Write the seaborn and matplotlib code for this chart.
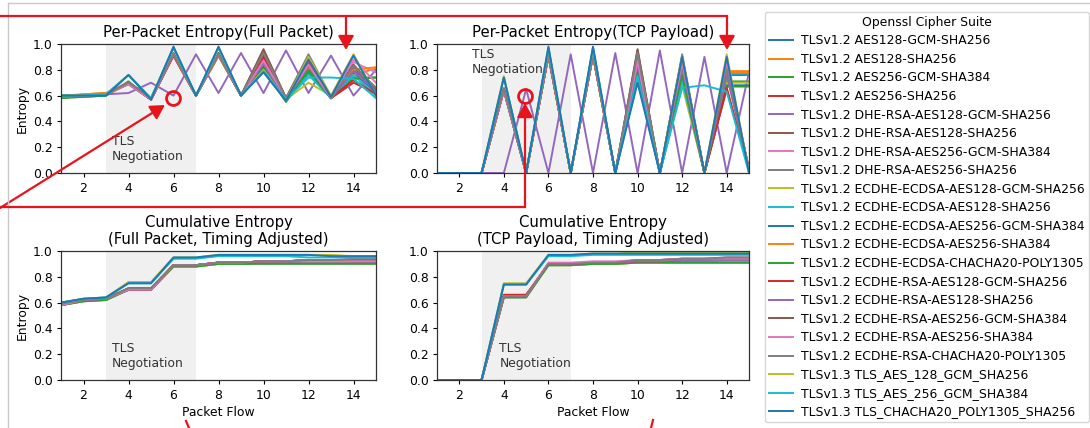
import matplotlib
matplotlib.use("Agg")
import matplotlib.pyplot as plt
from matplotlib.lines import Line2D
from matplotlib.patches import FancyArrowPatch
import pandas as pd
import seaborn as sns

W, H = 1090, 428

SUITES = [
    "TLSv1.2 AES128-GCM-SHA256",
    "TLSv1.2 AES128-SHA256",
    "TLSv1.2 AES256-GCM-SHA384",
    "TLSv1.2 AES256-SHA256",
    "TLSv1.2 DHE-RSA-AES128-GCM-SHA256",
    "TLSv1.2 DHE-RSA-AES128-SHA256",
    "TLSv1.2 DHE-RSA-AES256-GCM-SHA384",
    "TLSv1.2 DHE-RSA-AES256-SHA256",
    "TLSv1.2 ECDHE-ECDSA-AES128-GCM-SHA256",
    "TLSv1.2 ECDHE-ECDSA-AES128-SHA256",
    "TLSv1.2 ECDHE-ECDSA-AES256-GCM-SHA384",
    "TLSv1.2 ECDHE-ECDSA-AES256-SHA384",
    "TLSv1.2 ECDHE-ECDSA-CHACHA20-POLY1305",
    "TLSv1.2 ECDHE-RSA-AES128-GCM-SHA256",
    "TLSv1.2 ECDHE-RSA-AES128-SHA256",
    "TLSv1.2 ECDHE-RSA-AES256-GCM-SHA384",
    "TLSv1.2 ECDHE-RSA-AES256-SHA384",
    "TLSv1.2 ECDHE-RSA-CHACHA20-POLY1305",
    "TLSv1.3 TLS_AES_128_GCM_SHA256",
    "TLSv1.3 TLS_AES_256_GCM_SHA384",
    "TLSv1.3 TLS_CHACHA20_POLY1305_SHA256",
]
PACKETS = list(range(1, 16))

# per-packet entropy, full packet
full_packet = [
    [0.59, 0.60, 0.61, 0.70, 0.57, 0.92, 0.60, 0.92, 0.60, 0.86, 0.57, 0.82, 0.58, 0.78, 0.62],
    [0.60, 0.61, 0.62, 0.70, 0.58, 0.91, 0.60, 0.91, 0.61, 0.84, 0.58, 0.80, 0.59, 0.76, 0.81],
    [0.59, 0.59, 0.60, 0.71, 0.57, 0.92, 0.60, 0.92, 0.60, 0.80, 0.56, 0.78, 0.58, 0.74, 0.74],
    [0.58, 0.60, 0.61, 0.69, 0.57, 0.91, 0.60, 0.91, 0.60, 0.92, 0.58, 0.84, 0.58, 0.70, 0.62],
    [0.60, 0.60, 0.61, 0.62, 0.70, 0.60, 0.92, 0.62, 0.93, 0.62, 0.95, 0.62, 0.91, 0.60, 0.80],
    [0.59, 0.60, 0.61, 0.70, 0.58, 0.92, 0.60, 0.92, 0.60, 0.95, 0.58, 0.90, 0.59, 0.82, 0.66],
    [0.59, 0.60, 0.61, 0.69, 0.57, 0.91, 0.60, 0.91, 0.60, 0.88, 0.58, 0.86, 0.58, 0.86, 0.78],
    [0.59, 0.60, 0.61, 0.70, 0.58, 0.92, 0.60, 0.93, 0.60, 0.94, 0.58, 0.92, 0.59, 0.80, 0.64],
    [0.60, 0.60, 0.61, 0.70, 0.57, 0.91, 0.60, 0.91, 0.60, 0.82, 0.57, 0.70, 0.60, 0.72, 0.63],
    [0.59, 0.60, 0.61, 0.69, 0.57, 0.92, 0.60, 0.92, 0.60, 0.80, 0.58, 0.76, 0.58, 0.76, 0.60],
    [0.60, 0.60, 0.61, 0.70, 0.57, 0.92, 0.60, 0.92, 0.60, 0.83, 0.57, 0.80, 0.58, 0.80, 0.62],
    [0.59, 0.61, 0.62, 0.70, 0.58, 0.91, 0.60, 0.91, 0.61, 0.85, 0.58, 0.82, 0.59, 0.80, 0.82],
    [0.58, 0.59, 0.60, 0.70, 0.57, 0.92, 0.60, 0.92, 0.60, 0.81, 0.55, 0.80, 0.58, 0.73, 0.74],
    [0.59, 0.60, 0.61, 0.69, 0.57, 0.91, 0.60, 0.92, 0.60, 0.90, 0.57, 0.85, 0.58, 0.72, 0.61],
    [0.59, 0.60, 0.61, 0.70, 0.58, 0.92, 0.60, 0.92, 0.60, 0.85, 0.57, 0.83, 0.58, 0.79, 0.63],
    [0.59, 0.60, 0.61, 0.70, 0.57, 0.93, 0.60, 0.93, 0.60, 0.96, 0.58, 0.88, 0.59, 0.84, 0.65],
    [0.59, 0.60, 0.61, 0.69, 0.57, 0.92, 0.60, 0.92, 0.60, 0.87, 0.58, 0.84, 0.58, 0.88, 0.70],
    [0.59, 0.60, 0.61, 0.70, 0.58, 0.92, 0.60, 0.92, 0.60, 0.93, 0.58, 0.90, 0.58, 0.83, 0.66],
    [0.60, 0.60, 0.61, 0.76, 0.58, 0.97, 0.60, 0.97, 0.60, 0.80, 0.56, 0.90, 0.60, 0.92, 0.60],
    [0.60, 0.60, 0.61, 0.76, 0.58, 0.97, 0.60, 0.97, 0.60, 0.79, 0.57, 0.74, 0.74, 0.73, 0.58],
    [0.60, 0.60, 0.60, 0.76, 0.57, 0.98, 0.60, 0.98, 0.60, 0.78, 0.56, 0.88, 0.59, 0.91, 0.60],
]

# per-packet entropy, tcp payload only
tcp_payload = [
    [0, 0, 0, 0.65, 0, 0.92, 0, 0.92, 0, 0.80, 0, 0.78, 0, 0.76, 0.76],
    [0, 0, 0, 0.65, 0, 0.91, 0, 0.91, 0, 0.84, 0, 0.80, 0, 0.79, 0.79],
    [0, 0, 0, 0.66, 0, 0.92, 0, 0.92, 0, 0.78, 0, 0.76, 0, 0.71, 0.71],
    [0, 0, 0, 0.64, 0, 0.91, 0, 0.91, 0, 0.90, 0, 0.82, 0, 0.65, 0.02],
    [0, 0, 0, 0, 0.65, 0, 0.92, 0, 0.93, 0, 0.95, 0, 0.90, 0, 0.78],
    [0, 0, 0, 0.65, 0, 0.92, 0, 0.92, 0, 0.95, 0, 0.90, 0, 0.80, 0.03],
    [0, 0, 0, 0.64, 0, 0.91, 0, 0.91, 0, 0.86, 0, 0.85, 0, 0.84, 0.02],
    [0, 0, 0, 0.65, 0, 0.92, 0, 0.93, 0, 0.93, 0, 0.92, 0, 0.78, 0.03],
    [0, 0, 0, 0.65, 0, 0.91, 0, 0.91, 0, 0.82, 0, 0.68, 0, 0.70, 0.70],
    [0, 0, 0, 0.64, 0, 0.92, 0, 0.92, 0, 0.78, 0, 0.72, 0, 0.77, 0.77],
    [0, 0, 0, 0.65, 0, 0.92, 0, 0.92, 0, 0.82, 0, 0.78, 0, 0.68, 0.68],
    [0, 0, 0, 0.66, 0, 0.91, 0, 0.91, 0, 0.85, 0, 0.80, 0, 0.78, 0.78],
    [0, 0, 0, 0.65, 0, 0.92, 0, 0.92, 0, 0.80, 0, 0.76, 0, 0.67, 0.67],
    [0, 0, 0, 0.64, 0, 0.91, 0, 0.92, 0, 0.88, 0, 0.84, 0, 0.66, 0.02],
    [0, 0, 0, 0.65, 0, 0.92, 0, 0.92, 0, 0.84, 0, 0.82, 0, 0.76, 0.02],
    [0, 0, 0, 0.65, 0, 0.93, 0, 0.93, 0, 0.96, 0, 0.88, 0, 0.82, 0.03],
    [0, 0, 0, 0.64, 0, 0.92, 0, 0.92, 0, 0.87, 0, 0.86, 0, 0.86, 0.02],
    [0, 0, 0, 0.65, 0, 0.92, 0, 0.92, 0, 0.93, 0, 0.90, 0, 0.80, 0.03],
    [0, 0, 0, 0.75, 0, 0.97, 0, 0.97, 0, 0.72, 0, 0.90, 0, 0.92, 0.00],
    [0, 0, 0, 0.74, 0, 0.97, 0, 0.97, 0, 0.75, 0, 0.66, 0.68, 0.63, 0.00],
    [0, 0, 0, 0.74, 0, 0.98, 0, 0.98, 0, 0.70, 0, 0.90, 0, 0.90, 0.00],
]

# cumulative entropy, full packet (timing adjusted)
cum_full = [
    [0.59, 0.62, 0.63, 0.71, 0.71, 0.89, 0.89, 0.91, 0.91, 0.92, 0.92, 0.92, 0.92, 0.92, 0.92],
    [0.59, 0.62, 0.63, 0.71, 0.71, 0.89, 0.89, 0.91, 0.91, 0.92, 0.92, 0.93, 0.93, 0.93, 0.93],
    [0.58, 0.61, 0.62, 0.70, 0.70, 0.88, 0.88, 0.90, 0.90, 0.91, 0.91, 0.91, 0.91, 0.91, 0.91],
    [0.58, 0.62, 0.63, 0.70, 0.70, 0.89, 0.89, 0.91, 0.91, 0.92, 0.92, 0.92, 0.92, 0.92, 0.92],
    [0.59, 0.62, 0.63, 0.70, 0.70, 0.89, 0.89, 0.91, 0.91, 0.92, 0.92, 0.92, 0.92, 0.93, 0.93],
    [0.58, 0.62, 0.63, 0.71, 0.71, 0.89, 0.89, 0.91, 0.91, 0.92, 0.92, 0.93, 0.93, 0.93, 0.93],
    [0.58, 0.62, 0.63, 0.70, 0.70, 0.89, 0.89, 0.91, 0.91, 0.92, 0.92, 0.92, 0.92, 0.92, 0.92],
    [0.59, 0.62, 0.63, 0.71, 0.71, 0.89, 0.89, 0.91, 0.91, 0.92, 0.92, 0.93, 0.93, 0.93, 0.94],
    [0.59, 0.62, 0.63, 0.70, 0.70, 0.88, 0.88, 0.90, 0.90, 0.91, 0.91, 0.91, 0.91, 0.92, 0.92],
    [0.59, 0.62, 0.63, 0.70, 0.70, 0.89, 0.89, 0.91, 0.91, 0.91, 0.91, 0.92, 0.92, 0.92, 0.92],
    [0.59, 0.62, 0.63, 0.70, 0.70, 0.89, 0.89, 0.91, 0.91, 0.92, 0.92, 0.92, 0.92, 0.92, 0.92],
    [0.59, 0.62, 0.63, 0.71, 0.71, 0.89, 0.89, 0.91, 0.91, 0.92, 0.92, 0.93, 0.93, 0.93, 0.93],
    [0.58, 0.61, 0.62, 0.70, 0.70, 0.88, 0.88, 0.90, 0.90, 0.90, 0.90, 0.90, 0.90, 0.90, 0.90],
    [0.58, 0.62, 0.63, 0.70, 0.70, 0.89, 0.89, 0.91, 0.91, 0.92, 0.92, 0.92, 0.92, 0.92, 0.92],
    [0.59, 0.62, 0.63, 0.71, 0.71, 0.89, 0.89, 0.91, 0.91, 0.92, 0.92, 0.92, 0.92, 0.92, 0.92],
    [0.58, 0.62, 0.63, 0.71, 0.71, 0.89, 0.89, 0.91, 0.91, 0.92, 0.92, 0.93, 0.93, 0.93, 0.93],
    [0.58, 0.62, 0.63, 0.70, 0.70, 0.89, 0.89, 0.91, 0.91, 0.92, 0.92, 0.92, 0.92, 0.92, 0.92],
    [0.59, 0.62, 0.63, 0.71, 0.71, 0.89, 0.89, 0.91, 0.91, 0.92, 0.92, 0.93, 0.93, 0.94, 0.94],
    [0.60, 0.63, 0.64, 0.76, 0.76, 0.95, 0.95, 0.97, 0.97, 0.97, 0.97, 0.97, 0.97, 0.96, 0.96],
    [0.60, 0.63, 0.64, 0.75, 0.75, 0.94, 0.94, 0.96, 0.96, 0.96, 0.96, 0.95, 0.95, 0.95, 0.95],
    [0.60, 0.63, 0.64, 0.75, 0.75, 0.95, 0.95, 0.97, 0.97, 0.97, 0.97, 0.97, 0.96, 0.96, 0.96],
]

# cumulative entropy, tcp payload (timing adjusted)
cum_tcp = [
    [0, 0, 0, 0.65, 0.65, 0.90, 0.90, 0.91, 0.91, 0.92, 0.92, 0.93, 0.93, 0.93, 0.93],
    [0, 0, 0, 0.65, 0.65, 0.90, 0.90, 0.91, 0.91, 0.92, 0.92, 0.93, 0.93, 0.94, 0.94],
    [0, 0, 0, 0.65, 0.65, 0.89, 0.89, 0.90, 0.90, 0.91, 0.91, 0.91, 0.91, 0.91, 0.91],
    [0, 0, 0, 0.66, 0.66, 0.90, 0.90, 0.91, 0.91, 0.92, 0.92, 0.93, 0.93, 0.93, 0.93],
    [0, 0, 0, 0.65, 0.65, 0.90, 0.90, 0.91, 0.91, 0.92, 0.92, 0.93, 0.93, 0.94, 0.94],
    [0, 0, 0, 0.65, 0.65, 0.90, 0.90, 0.91, 0.91, 0.92, 0.92, 0.93, 0.93, 0.94, 0.94],
    [0, 0, 0, 0.64, 0.64, 0.90, 0.90, 0.91, 0.91, 0.92, 0.92, 0.93, 0.93, 0.93, 0.93],
    [0, 0, 0, 0.65, 0.65, 0.90, 0.90, 0.91, 0.91, 0.93, 0.93, 0.94, 0.94, 0.95, 0.95],
    [0, 0, 0, 0.65, 0.65, 0.89, 0.89, 0.90, 0.90, 0.91, 0.91, 0.92, 0.92, 0.92, 0.92],
    [0, 0, 0, 0.65, 0.65, 0.90, 0.90, 0.91, 0.91, 0.92, 0.92, 0.92, 0.92, 0.93, 0.93],
    [0, 0, 0, 0.65, 0.65, 0.90, 0.90, 0.91, 0.91, 0.92, 0.92, 0.93, 0.93, 0.93, 0.93],
    [0, 0, 0, 0.65, 0.65, 0.90, 0.90, 0.91, 0.91, 0.92, 0.92, 0.93, 0.93, 0.94, 0.94],
    [0, 0, 0, 0.64, 0.64, 0.89, 0.89, 0.90, 0.90, 0.91, 0.91, 0.91, 0.91, 0.91, 0.91],
    [0, 0, 0, 0.66, 0.66, 0.90, 0.90, 0.91, 0.91, 0.92, 0.92, 0.93, 0.93, 0.93, 0.93],
    [0, 0, 0, 0.65, 0.65, 0.90, 0.90, 0.91, 0.91, 0.92, 0.92, 0.93, 0.93, 0.93, 0.93],
    [0, 0, 0, 0.65, 0.65, 0.90, 0.90, 0.91, 0.91, 0.93, 0.93, 0.94, 0.94, 0.94, 0.94],
    [0, 0, 0, 0.65, 0.65, 0.91, 0.91, 0.92, 0.92, 0.93, 0.93, 0.94, 0.94, 0.94, 0.94],
    [0, 0, 0, 0.65, 0.65, 0.90, 0.90, 0.91, 0.91, 0.93, 0.93, 0.94, 0.94, 0.95, 0.95],
    [0, 0, 0, 0.75, 0.75, 0.97, 0.97, 0.98, 0.98, 0.99, 0.99, 0.99, 0.99, 0.99, 0.99],
    [0, 0, 0, 0.74, 0.74, 0.96, 0.96, 0.97, 0.97, 0.97, 0.97, 0.97, 0.97, 0.97, 0.97],
    [0, 0, 0, 0.74, 0.74, 0.97, 0.97, 0.98, 0.98, 0.98, 0.98, 0.98, 0.98, 0.98, 0.98],
]

PALETTE = [sns.color_palette("tab10")[i % 10] for i in range(len(SUITES))]

plt.rcParams["font.family"] = "DejaVu Sans"
plt.rcParams["axes.linewidth"] = 0.9

TICK_FS = 8.9
TITLE_FS = 10.7


def to_long(rows):
    df = pd.DataFrame(rows, index=SUITES, columns=PACKETS)
    df.index.name = "suite"
    return df.reset_index().melt(id_vars="suite", var_name="packet", value_name="entropy")


def px_axes(left, top, right, bottom):
    return [left / W, 1 - bottom / H, (right - left) / W, (bottom - top) / H]


def draw_panel(ax, rows, title, text_xy, text_va, xlabel=None, ylabel=None, legend=False):
    ax.axvspan(3, 7, color="#f0f0f0", zorder=0, lw=0)
    sns.lineplot(
        data=to_long(rows), x="packet", y="entropy", hue="suite",
        hue_order=SUITES, palette=PALETTE, linewidth=1.4,
        errorbar=None, legend=legend, ax=ax,
    )
    ax.set_xlim(1, 15)
    ax.set_ylim(0, 1)
    ax.set_xticks(range(2, 15, 2))
    ax.set_yticks([0, 0.2, 0.4, 0.6, 0.8, 1.0])
    ax.tick_params(labelsize=TICK_FS, length=3.2, width=0.8, pad=3)
    ax.set_title(title, fontsize=TITLE_FS, pad=5, linespacing=1.2)
    ax.set_xlabel(xlabel or "", fontsize=TICK_FS, labelpad=3)
    ax.set_ylabel(ylabel or "", fontsize=TICK_FS, labelpad=3)
    ax.text(text_xy[0], text_xy[1], "TLS\nNegotiation", fontsize=TICK_FS, va=text_va, ha="left", color="#333333")
    for s in ax.spines.values():
        s.set_color("#333333")


fig = plt.figure(figsize=(W / 100, H / 100), dpi=100)

ax_tl = fig.add_axes(px_axes(61, 44, 376, 173))
ax_tr = fig.add_axes(px_axes(437, 44, 749, 173))
ax_bl = fig.add_axes(px_axes(61, 251, 376, 380))
ax_br = fig.add_axes(px_axes(437, 251, 749, 380))

draw_panel(ax_tl, full_packet, "Per-Packet Entropy(Full Packet)", (3.25, 0.08), "bottom", ylabel="Entropy", legend=True)
draw_panel(ax_tr, tcp_payload, "Per-Packet Entropy(TCP Payload)", (2.55, 0.97), "top")
draw_panel(ax_bl, cum_full, "Cumulative Entropy\n(Full Packet, Timing Adjusted)", (3.25, 0.08), "bottom",
           xlabel="Packet Flow", ylabel="Entropy")
draw_panel(ax_br, cum_tcp, "Cumulative Entropy\n(TCP Payload, Timing Adjusted)", (3.8, 0.08), "bottom",
           xlabel="Packet Flow")

handles, labels = ax_tl.get_legend_handles_labels()
ax_tl.get_legend().remove()
fig.legend(
    handles, labels, title="Openssl Cipher Suite", loc="upper left",
    bbox_to_anchor=(765 / W, 1 - 12 / H), borderaxespad=0, fontsize=8.9,
    title_fontsize=8.9, labelspacing=0.45, handlelength=2.0, handletextpad=0.65,
    borderpad=0.3, frameon=True,
)

# notebook cell border
grey = "#c8c8c8"
fig.add_artist(Line2D([8 / W, 1], [1 - 3 / H, 1 - 3 / H], color=grey, lw=1))
fig.add_artist(Line2D([8 / W, 8 / W], [0, 1 - 3 / H], color=grey, lw=1))


# red annotation marks drawn on top of the screenshot
def fx(x):
    return x / W


def fy(y):
    return 1 - y / H


red = "#e8141c"
fig.add_artist(Line2D([fx(0), fx(727)], [fy(16), fy(16)], color=red, lw=1.6))
fig.add_artist(Line2D([fx(0), fx(525)], [fy(207), fy(207)], color=red, lw=1.6))
fig.add_artist(Line2D([fx(186), fx(189)], [fy(421), fy(428)], color=red, lw=1.6))
fig.add_artist(Line2D([fx(653), fx(651)], [fy(420), fy(428)], color=red, lw=1.6))
arrows = [
    ((346, 16), (346, 50)),
    ((727, 16), (727, 50)),
    ((0, 208), (165, 105)),
    ((525, 207), (525, 103)),
]
for (x0, y0), (x1, y1) in arrows:
    fig.add_artist(FancyArrowPatch(
        (fx(x0), fy(y0)), (fx(x1), fy(y1)), transform=fig.transFigure,
        arrowstyle="-|>,head_length=0.5,head_width=0.28", mutation_scale=17,
        color=red, lw=1.6, shrinkA=0, shrinkB=0,
    ))
for cx, cy in [(173, 98), (525, 96)]:
    fig.add_artist(Line2D([fx(cx)], [fy(cy)], marker="o", markersize=10, markerfacecolor="none",
                          markeredgecolor=red, markeredgewidth=2))

fig.savefig("out.png", dpi=100)
plt.close(fig)
